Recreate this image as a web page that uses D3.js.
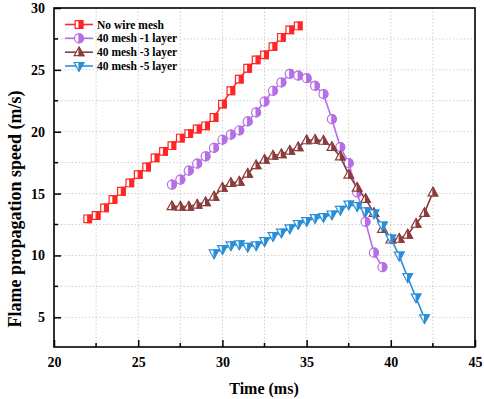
<!DOCTYPE html>
<html>
<head>
<meta charset="utf-8">
<script src="https://cdn.jsdelivr.net/npm/d3@7"></script>
<style>
  body { margin: 0; background: #fff; }
  text { font-family: "Liberation Serif", "Times New Roman", serif; font-weight: bold; }
</style>
</head>
<body>
<script>
// data
var seriesNames = ["No wire mesh", "40 mesh -1 layer", "40 mesh -3 layer", "40 mesh -5 layer"];

var timeNoMesh = [22,22.5,23,23.5,24,24.5,25,25.5,26,26.5,27,27.5,28,28.5,29,29.5,30,30.5,31,31.5,32,32.5,33,33.5,34,34.5];
var speedNoMesh = [12.96,13.23,13.84,14.52,15.19,15.86,16.53,17.15,17.88,18.41,18.87,19.49,19.84,20.22,20.48,21.15,22.23,23.31,24.25,25.13,25.81,26.21,26.88,27.63,28.23,28.55];

var time1Layer = [27,27.5,28,28.5,29,29.5,30,30.5,31,31.5,32,32.5,33,33.5,34,34.5,35,35.5,36,36.5,37,37.5,38,38.5,39,39.5];
var speed1Layer = [15.73,16.13,16.85,17.42,18.01,18.69,19.35,19.76,20.1,20.83,21.56,22.44,23.31,23.98,24.68,24.54,24.33,23.71,23.04,21.02,18.76,17.47,15.1,12.72,10.22,9.06];

var time3Layer = [27,27.5,28,28.5,29,29.5,30,30.5,31,31.5,32,32.5,33,33.5,34,34.5,35,35.5,36,36.5,37,37.5,38,38.5,39,39.5,40,40.5,41,41.5,42,42.5];
var speed3Layer = [13.98,13.95,13.95,14.11,14.31,14.76,15.48,15.86,15.97,16.61,17.3,17.74,18.06,18.19,18.47,18.75,19.31,19.35,19.27,18.77,18.0,16.53,15.48,14.57,13.44,12.15,11.29,11.35,11.69,12.56,13.44,15.1];

var time5Layer = [29.5,30,30.5,31,31.5,32,32.5,33,33.5,34,34.5,35,35.5,36,36.5,37,37.5,38,38.5,39,39.5,40,40.5,41,41.5,42];
var speed5Layer = [10.16,10.51,10.81,10.89,10.7,10.81,11.15,11.56,11.85,12.18,12.54,12.77,13.02,13.1,13.31,13.69,14.11,13.98,13.57,13.39,12.42,11.37,9.98,8.24,6.59,4.92];

var xMajor = [20,25,30,35,40,45];
var xMinor = [22.5,27.5,32.5,37.5,42.5];
var yMajor = [5,10,15,20,25,30];
var yMinor = [7.5,12.5,17.5,22.5,27.5];

var colors = ["#ff2626", "#b66ee6", "#8b3c3c", "#2b8fd6"];
var shapes = ["square", "circle", "up", "down"];

var series = [
  {name: seriesNames[0], t: timeNoMesh, v: speedNoMesh},
  {name: seriesNames[1], t: time1Layer, v: speed1Layer},
  {name: seriesNames[2], t: time3Layer, v: speed3Layer},
  {name: seriesNames[3], t: time5Layer, v: speed5Layer}
];

var svg = d3.select("body").append("svg")
    .attr("width", 484)
    .attr("height", 399)
    .style("display", "block");

var margin = {top: 8, right: 9, bottom: 52, left: 54};
var width = 484 - margin.left - margin.right;
var height = 399 - margin.top - margin.bottom;

var g = svg.append("g").attr("transform", "translate(" + margin.left + "," + margin.top + ")");

var x = d3.scaleLinear().domain([20, 45]).range([0, width]);
var y = d3.scaleLinear().domain([2.6, 30]).range([height, 0]);

// dotted grid at major and minor ticks
var grid = g.append("g").attr("stroke", "#cfcfcf").attr("stroke-width", 1).attr("stroke-dasharray", "1.5,2");
grid.selectAll(".gx").data(xMajor.concat(xMinor).filter(function(d){ return d > 20 && d < 45; }))
  .enter().append("line")
    .attr("x1", function(d){ return x(d); }).attr("x2", function(d){ return x(d); })
    .attr("y1", 0).attr("y2", height);
grid.selectAll(".gy").data(yMajor.concat(yMinor).filter(function(d){ return d < 30; }))
  .enter().append("line")
    .attr("y1", function(d){ return y(d); }).attr("y2", function(d){ return y(d); })
    .attr("x1", 0).attr("x2", width);

// axes with inward ticks
function customXAxis(sel) {
  sel.call(d3.axisBottom(x).tickValues(xMajor).tickSize(-7).tickPadding(10).tickFormat(d3.format("d")));
  sel.select(".domain").remove();
  sel.selectAll(".tick line").attr("stroke", "#000").attr("stroke-width", 1.5);
  sel.selectAll(".tick text").style("font-size", "14px").attr("fill", "#000");
  sel.call(function(s) {
    s.selectAll(".minor").data(xMinor).enter().append("line")
      .attr("x1", function(d){ return x(d); }).attr("x2", function(d){ return x(d); })
      .attr("y1", 0).attr("y2", -4).attr("stroke", "#000").attr("stroke-width", 1.5);
  });
}
function customYAxis(sel) {
  sel.call(d3.axisLeft(y).tickValues(yMajor).tickSize(-7).tickPadding(9).tickFormat(d3.format("d")));
  sel.select(".domain").remove();
  sel.selectAll(".tick line").attr("stroke", "#000").attr("stroke-width", 1.5);
  sel.selectAll(".tick text").style("font-size", "14px").attr("fill", "#000");
  sel.call(function(s) {
    s.selectAll(".minor").data(yMinor).enter().append("line")
      .attr("y1", function(d){ return y(d); }).attr("y2", function(d){ return y(d); })
      .attr("x1", 0).attr("x2", 4).attr("stroke", "#000").attr("stroke-width", 1.5);
  });
}

g.append("g").attr("transform", "translate(0," + height + ")").call(customXAxis);
g.append("g").call(customYAxis);

g.append("rect")
    .attr("width", width).attr("height", height)
    .attr("fill", "none").attr("stroke", "#000").attr("stroke-width", 1.6);

// marker outlines and right half fills
function fullPath(shape) {
  if (shape == "square") return "M-3.8,-3.8H3.8V3.8H-3.8Z";
  if (shape == "circle") return "M0,-4.5A4.5,4.5 0 1,1 0,4.5A4.5,4.5 0 1,1 0,-4.5Z";
  if (shape == "up") return "M0,-5.2L4.8,3.5H-4.8Z";
  return "M0,5.2L4.8,-3.5H-4.8Z";
}
function halfPath(shape) {
  if (shape == "square") return "M0,-3.8H3.8V3.8H0Z";
  if (shape == "circle") return "M0,-4.5A4.5,4.5 0 0,1 0,4.5Z";
  if (shape == "up") return "M0,-5.2L4.8,3.5H0Z";
  return "M0,5.2L4.8,-3.5H0Z";
}

function drawMarker(sel, shape, color) {
  sel.append("path").attr("d", fullPath(shape)).attr("fill", "#fff").attr("stroke", color).attr("stroke-width", 1.2);
  sel.append("path").attr("d", halfPath(shape)).attr("fill", color).attr("stroke", color).attr("stroke-width", 1.2);
}

var line = d3.line().x(function(d){ return x(d[0]); }).y(function(d){ return y(d[1]); });

series.forEach(function(s, i) {
  var pts = s.t.map(function(t, j){ return [t, s.v[j]]; });
  var sg = g.append("g");
  sg.append("path").datum(pts).attr("d", line)
    .attr("fill", "none").attr("stroke", colors[i]).attr("stroke-width", 1.6);
  sg.selectAll(".pt").data(pts).enter().append("g")
    .attr("transform", function(d){ return "translate(" + x(d[0]) + "," + y(d[1]) + ")"; })
    .each(function(){ drawMarker(d3.select(this), shapes[i], colors[i]); });
});

// legend
var legend = svg.append("g");
var rowY = [24.5, 38.3, 52.2, 66];
series.forEach(function(s, i) {
  var lg = legend.append("g").attr("transform", "translate(0," + rowY[i] + ")");
  lg.append("line").attr("x1", 65).attr("x2", 93).attr("y1", 0).attr("y2", 0)
    .attr("stroke", colors[i]).attr("stroke-width", 1.6);
  drawMarker(lg.append("g").attr("transform", "translate(79,0)"), shapes[i], colors[i]);
  lg.append("text").attr("x", 97).attr("y", 4).text(s.name).style("font-size", "11.5px").attr("fill", "#000");
});

// axis titles
svg.append("text")
    .attr("x", 264).attr("y", 394)
    .attr("text-anchor", "middle")
    .text("Time (ms)")
    .style("font-size", "16px");

svg.append("text")
    .attr("transform", "translate(21,209) rotate(-90)")
    .attr("text-anchor", "middle")
    .text("Flame propagation speed (m/s)")
    .style("font-size", "18px");
</script>
</body>
</html>
